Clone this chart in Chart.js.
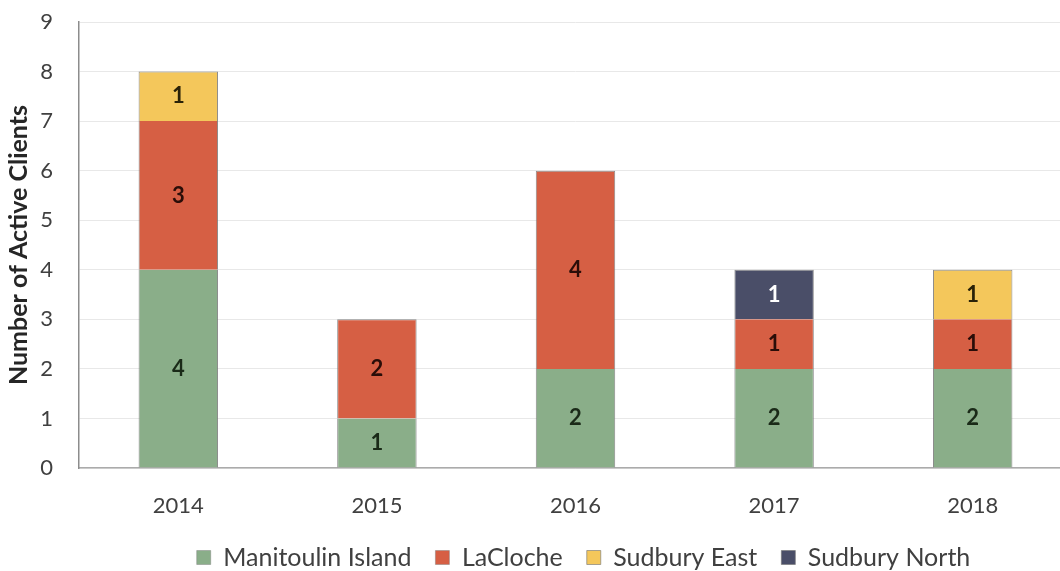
<!DOCTYPE html>
<html>
<head>
<meta charset="utf-8">
<script src="https://cdn.jsdelivr.net/npm/chart.js@4"></script>
<style>
  html, body { margin: 0; padding: 0; background: #fff; overflow: hidden; }
  #wrap { position: absolute; left: 0; top: 0; width: 1072px; height: 580px; }
</style>
</head>
<body>
<div id="wrap"><canvas id="chart"></canvas></div>
<script>
// Active clients per year, stacked by area
const years = ['2014', '2015', '2016', '2017', '2018'];
const manitoulinIsland = [4, 1, 2, 2, 2];
const laCloche = [3, 2, 4, 1, 1];
const sudburyEast = [1, null, null, null, 1];
const sudburyNorth = [null, null, null, 1, null];
const yTicks = [0, 1, 2, 3, 4, 5, 6, 7, 8, 9];

const FONT = 'Lato, "Open Sans", sans-serif';
const series = [
  { label: 'Manitoulin Island', data: manitoulinIsland, color: '#8aae89', text: '#1a2a18' },
  { label: 'LaCloche', data: laCloche, color: '#d65f44', text: '#2a0d08' },
  { label: 'Sudbury East', data: sudburyEast, color: '#f4c75b', text: '#2a2208' },
  { label: 'Sudbury North', data: sudburyNorth, color: '#4a4e68', text: '#ffffff' }
];

// topmost non-empty segment in a column gets a top border
function isTopSegment(dsIndex, i) {
  for (let k = dsIndex + 1; k < series.length; k++) {
    if (series[k].data[i] != null) return false;
  }
  return true;
}

// value printed in the middle of every segment
const segmentLabels = {
  id: 'segmentLabels',
  afterDatasetsDraw(chart) {
    const ctx = chart.ctx;
    ctx.save();
    ctx.font = 'bold 22px ' + FONT;
    ctx.textAlign = 'center';
    ctx.textBaseline = 'middle';
    chart.data.datasets.forEach((ds, di) => {
      const meta = chart.getDatasetMeta(di);
      meta.data.forEach((bar, i) => {
        const v = ds.data[i];
        if (v == null) return;
        ctx.fillStyle = series[di].text;
        ctx.fillText(String(v), bar.x, (bar.y + bar.base) / 2);
      });
    });
    ctx.restore();
  }
};

// nudge the legend a little right of the plot centre
const legendShift = {
  id: 'legendShift',
  afterLayout(chart) {
    const lg = chart.legend;
    if (lg) { lg.left += 8; lg.right += 8; }
  }
};

new Chart(document.getElementById('chart'), {
  type: 'bar',
  data: {
    labels: years,
    datasets: series.map((s, di) => ({
      label: s.label,
      data: s.data,
      backgroundColor: s.color,
      borderColor: 'rgba(120,120,120,0.85)',
      borderWidth: (c) => ({ left: 1, right: 1, top: isTopSegment(di, c.dataIndex) ? 1 : 0, bottom: 0 }),
      borderSkipped: false,
      categoryPercentage: 1,
      barPercentage: 0.40
    }))
  },
  options: {
    responsive: true,
    maintainAspectRatio: false,
    animation: false,
    layout: { padding: { top: 22, left: 0, right: 0, bottom: 0 } },
    scales: {
      x: {
        stacked: true,
        afterFit: (s) => { s.height = 53; },
        grid: { display: false, drawTicks: false },
        border: { display: true, color: '#ababab', width: 1.5 },
        ticks: { color: '#404040', font: { family: FONT, size: 22 }, padding: 25 }
      },
      y: {
        stacked: true,
        min: 0,
        max: 9,
        afterBuildTicks: (s) => { s.ticks = yTicks.map(v => ({ value: v })); },
        afterFit: (s) => { s.width = 79; s.paddingTop = 0; s.paddingBottom = 0; },
        grid: { color: '#e8e8e8', drawTicks: false, lineWidth: 1 },
        border: { display: true, color: '#8c8c8c', width: 1.5 },
        ticks: { color: '#404040', font: { family: FONT, size: 22 }, padding: 26 },
        title: {
          display: true,
          text: 'Number of Active Clients',
          color: '#262626',
          font: { family: FONT, size: 25, weight: 'bold' },
          padding: { top: 4, bottom: 0 }
        }
      }
    },
    plugins: {
      legend: {
        position: 'bottom',
        fullSize: false,
        labels: {
          color: '#404040',
          font: { family: FONT, size: 25 },
          boxWidth: 14,
          boxHeight: 14,
          padding: 24
        }
      },
      tooltip: { enabled: false }
    }
  },
  plugins: [segmentLabels, legendShift]
});
</script>
</body>
</html>
